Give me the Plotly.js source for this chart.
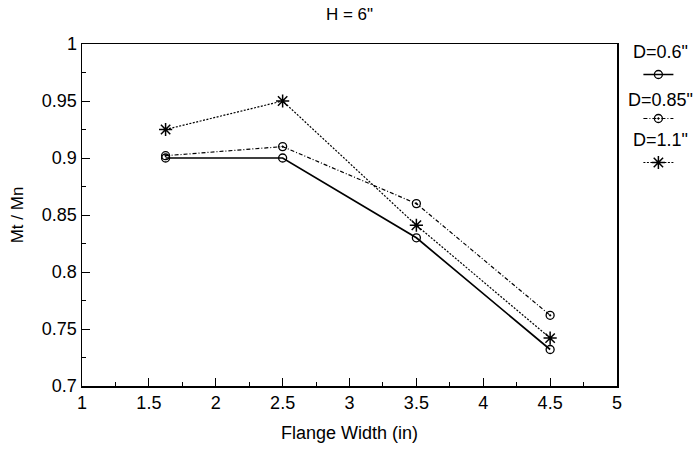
<!DOCTYPE html>
<html>
<head>
<meta charset="utf-8">
<script src="https://cdn.plot.ly/plotly-3.0.1.min.js"></script>
<style>html,body{margin:0;padding:0;background:#fff;}#chart{width:696px;height:450px;}</style>
</head>
<body>
<div id="chart"></div>
<script>
const flangeWidth = [1.625, 2.5, 3.5, 4.5];
const d06 = [0.900, 0.900, 0.830, 0.732];
const d085 = [0.902, 0.910, 0.860, 0.762];
const d11 = [0.925, 0.950, 0.841, 0.742];
const seriesNames = ['D=0.6"', 'D=0.85"', 'D=1.1"'];
const xTicks = [1, 1.5, 2, 2.5, 3, 3.5, 4, 4.5, 5];
const yTicks = [0.7, 0.75, 0.8, 0.85, 0.9, 0.95, 1];

const FONT = 'Liberation Sans, Arial, sans-serif';

const traces = [
  {x: flangeWidth, y: d06, mode: 'lines+markers', name: '', legendgroup: 'a',
   line: {color: '#000', width: 1.7, dash: 'solid'},
   marker: {symbol: 'circle-open', size: 8, color: '#000', line: {width: 1.3, color: '#000'}}},
  {x: flangeWidth, y: d085, mode: 'lines+markers', name: '', legendgroup: 'b',
   line: {color: '#000', width: 1.2, dash: '4px,2px,1px,2px'},
   marker: {symbol: 'circle-open-dot', size: 8, color: '#000', line: {width: 1.3, color: '#000'}}},
  {x: flangeWidth, y: d11, mode: 'lines+markers', name: '', legendgroup: 'c',
   line: {color: '#000', width: 1.2, dash: '2px,1.5px'},
   marker: {symbol: 'asterisk-open', size: 11, color: '#000', line: {width: 1.5, color: '#000'}}}
];

const legendLabelY = [52, 100, 140];
const annotations = seriesNames.map((t, i) => ({
  text: t, xref: 'paper', yref: 'paper',
  x: (660 - 82) / 535, y: (386 - legendLabelY[i]) / 342,
  xanchor: 'center', yanchor: 'middle', showarrow: false,
  font: {family: FONT, size: 18, color: '#000'}
}));

const layout = {
  width: 696, height: 450,
  margin: {l: 82, r: 79, t: 44, b: 64},
  paper_bgcolor: '#fff', plot_bgcolor: '#fff',
  showlegend: true,
  legend: {x: 1.04, xanchor: 'left', y: (386 - 60) / 342, yanchor: 'top',
           traceorder: 'grouped', tracegroupgap: 25,
           bgcolor: 'rgba(0,0,0,0)', borderwidth: 0, itemwidth: 30,
           font: {family: FONT, size: 12, color: '#000'}},
  annotations: annotations,
  title: {text: 'H = 6"', x: 0.5, xref: 'paper', y: 0.968, yanchor: 'middle',
          font: {family: FONT, size: 17, color: '#000'}},
  xaxis: {range: [1, 5], tickvals: xTicks, ticktext: xTicks.map(String),
          ticks: 'inside', ticklen: 8, tickwidth: 1, tickcolor: '#000',
          minor: {ticks: 'inside', ticklen: 4, dtick: 0.25, tickcolor: '#000', showgrid: false},
          showline: true, linecolor: '#000', linewidth: 1.5, mirror: true,
          showgrid: false, zeroline: false,
          tickfont: {family: FONT, size: 18, color: '#000'},
          title: {text: 'Flange Width (in)', standoff: 14, font: {family: FONT, size: 18, color: '#000'}}},
  yaxis: {range: [0.7, 1], tickvals: yTicks, ticktext: yTicks.map(String),
          ticks: 'inside', ticklen: 8, tickwidth: 1, tickcolor: '#000',
          minor: {ticks: 'inside', ticklen: 4, dtick: 0.025, tickcolor: '#000', showgrid: false},
          showline: true, linecolor: '#000', linewidth: 1.5, mirror: true,
          showgrid: false, zeroline: false,
          tickfont: {family: FONT, size: 18, color: '#000'},
          title: {text: 'Mt / Mn', standoff: 14, font: {family: FONT, size: 17, color: '#000'}}}
};

Plotly.newPlot('chart', traces, layout, {displayModeBar: false, staticPlot: true});
</script>
</body>
</html>
